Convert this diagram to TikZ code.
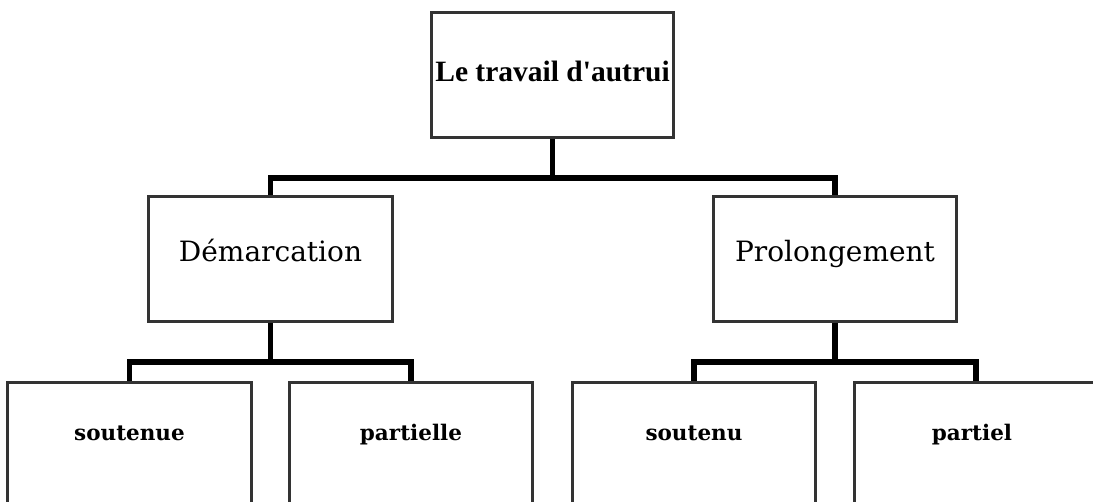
\documentclass[tikz,border=0pt]{standalone}
\usepackage{fontspec}
\newfontfamily\topfont{Liberation Serif}
\newfontfamily\midfont{DejaVu Serif}
\begin{document}
\begin{tikzpicture}[x=1pt,y=-1pt,
  box/.style={draw=black!80,line width=1.8pt,rectangle,inner sep=0pt,fill=white},
  conn/.style={draw=black,line width=5.5pt},
  toptext/.style={font=\topfont\bfseries\fontsize{29.5}{30}\selectfont,anchor=base,inner sep=0pt},
  midtext/.style={font=\midfont\fontsize{28}{30}\selectfont,anchor=base,inner sep=0pt},
  lowtext/.style={font=\midfont\bfseries\fontsize{21.5}{24}\selectfont,anchor=base,inner sep=0pt}]
\useasboundingbox (0,0) rectangle (1093,502);
\clip (0,0) rectangle (1093,502);
\fill[white] (0,0) rectangle (1093,502);
% connectors
\coordinate (j1) at (552.5,178);
\coordinate (j2) at (270.5,362);
\coordinate (j3) at (835,362);
% boxes
\node[box,minimum width=241pt,minimum height=124pt] (top) at (552.5,75) {};
\node[box,minimum width=243pt,minimum height=124pt] (dem) at (270.5,259) {};
\node[box,minimum width=242pt,minimum height=124pt] (pro) at (835,259) {};
\node[box,minimum width=243pt,minimum height=200pt] (s1) at (129.5,483) {};
\node[box,minimum width=242pt,minimum height=200pt] (p1) at (411,483) {};
\node[box,minimum width=242pt,minimum height=200pt] (s2) at (694,483) {};
\node[box,minimum width=242pt,minimum height=200pt] (p2) at (976,483) {};
\draw[conn] (top.south) -- (j1);
\draw[conn,line join=miter] (j1) -| (dem.north);
\draw[conn,line join=miter] (j1) -| (pro.north);
\draw[conn] (dem.south) -- (j2);
\draw[conn,line join=miter] (j2) -| (s1.north);
\draw[conn,line join=miter] (j2) -| (p1.north);
\draw[conn] (pro.south) -- (j3);
\draw[conn,line join=miter] (j3) -| (s2.north);
\draw[conn,line join=miter] (j3) -| (p2.north);
% redraw box borders over connector ends
\foreach \n in {top,dem,pro,s1,p1,s2,p2}{\draw[draw=black!80,line width=1.8pt] (\n.north west) rectangle (\n.south east);}
% texts
\node[toptext] (ttop) at (552.5,82) {Le travail d'autrui};
\node[midtext] (tdem) at (270.5,262) {Démarcation};
\node[midtext] (tpro) at (835,262) {Prolongement};
\node[lowtext] (ts1) at (129.5,441) {soutenue};
\node[lowtext] (tp1) at (411,441) {partielle};
\node[lowtext] (ts2) at (694,441) {soutenu};
\node[lowtext] (tp2) at (972,441) {partiel};
\end{tikzpicture}
\end{document}
